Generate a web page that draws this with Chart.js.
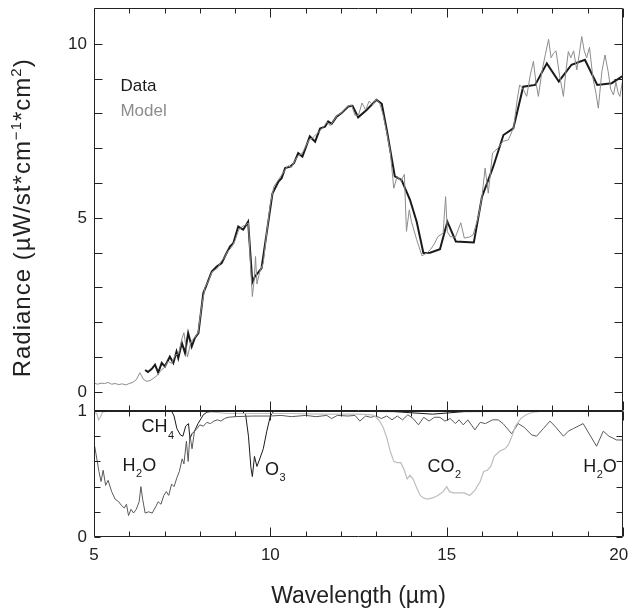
<!DOCTYPE html>
<html lang="en">
<head>
<meta charset="UTF-8">
<title>Radiance spectrum</title>
<script src="https://cdn.jsdelivr.net/npm/chart.js"></script>
<style>
  body { margin: 0; background: #fff; }
  #wrap { width: 629px; height: 610px; }
</style>
</head>
<body>
<div id="wrap"><canvas id="spec" width="629" height="610"></canvas></div>
<script>
// measured spectrum (black)
const dataWl = [6.45,6.53,6.64,6.73,6.82,6.92,7.01,7.15,7.25,7.34,7.39,7.49,7.58,7.67,7.77,7.86,7.96,8.10,8.19,8.34,
  8.48,8.62,8.76,8.86,8.95,9.09,9.23,9.37,9.49,9.56,9.75,10.06,10.23,10.32,10.42,10.56,10.67,10.79,10.91,11.12,
  11.27,11.41,11.55,11.64,11.74,11.88,12.02,12.21,12.33,12.49,12.73,13.01,13.16,13.30,13.53,13.72,13.96,14.15,14.34,14.53,
  14.81,15.02,15.26,15.77,16.00,16.32,16.61,16.89,17.17,17.51,17.84,18.18,18.54,18.92,19.27,19.68,20.00];
const dataRad = [0.63,0.57,0.66,0.78,0.55,0.83,0.73,1.01,0.83,1.16,0.97,1.41,1.12,1.69,1.30,1.55,1.69,2.84,3.07,3.46,
  3.60,3.70,3.99,4.18,4.27,4.75,4.66,4.89,3.15,3.31,3.55,5.70,6.04,6.14,6.43,6.47,6.57,6.86,6.76,7.34,
  7.19,7.57,7.62,7.77,7.70,7.91,8.01,8.20,8.22,7.89,8.10,8.39,8.28,7.53,6.19,6.09,5.52,4.89,3.99,4.00,
  4.10,4.89,4.32,4.29,5.60,6.47,7.38,7.57,8.77,8.82,9.44,8.92,9.40,9.54,8.82,8.87,9.08];

// model spectrum (grey)
const modelWl = [5.0,5.1,5.2,5.3,5.4,5.5,5.6,5.7,5.8,5.9,6.0,6.1,6.2,6.3,6.4,6.5,6.6,6.7,6.8,6.9,
  7.0,7.1,7.2,7.3,7.4,7.5,7.55,7.65,7.75,7.85,7.95,8.05,8.15,8.25,8.35,8.5,8.6,8.7,8.8,8.9,
  9.0,9.1,9.2,9.3,9.38,9.44,9.49,9.54,9.58,9.62,9.7,9.8,9.9,10.0,10.1,10.2,10.3,10.4,10.5,10.6,
  10.7,10.8,10.9,11.0,11.1,11.2,11.3,11.4,11.5,11.6,11.7,11.8,11.9,12.0,12.1,12.2,12.3,12.4,12.5,12.6,
  12.7,12.8,12.9,13.0,13.1,13.2,13.3,13.4,13.5,13.6,13.7,13.8,13.86,13.94,14.0,14.15,14.3,14.45,14.55,14.65,
  14.75,14.9,14.97,15.02,15.1,15.25,15.4,15.5,15.65,15.75,15.9,16.0,16.09,16.18,16.3,16.45,16.6,16.75,16.9,17.0,
  17.07,17.17,17.27,17.37,17.46,17.53,17.6,17.7,17.8,17.89,17.96,18.03,18.1,18.2,18.31,18.38,18.45,18.52,18.6,18.69,
  18.76,18.83,18.9,18.97,19.05,19.15,19.23,19.3,19.4,19.49,19.58,19.65,19.73,19.8,19.86,19.91,20.0];
const modelRad = [0.25,0.22,0.25,0.24,0.27,0.22,0.24,0.21,0.23,0.20,0.24,0.27,0.35,0.55,0.36,0.30,0.33,0.40,0.48,0.62,
  0.70,0.88,0.82,1.05,1.10,1.55,1.70,1.00,1.45,1.55,1.70,2.45,3.00,3.20,3.45,3.55,3.75,3.85,4.05,4.15,
  4.35,4.65,4.75,4.80,4.85,3.60,2.74,3.20,3.89,3.10,3.45,3.70,4.60,5.40,5.90,6.05,6.20,6.35,6.50,6.45,
  6.65,6.80,6.85,7.05,7.25,7.30,7.40,7.50,7.60,7.75,7.65,7.80,7.95,8.00,8.10,8.20,8.25,7.95,7.95,8.30,
  8.10,8.35,8.25,8.40,8.30,7.95,7.45,6.90,5.85,6.20,6.05,6.25,4.61,5.23,4.90,4.37,3.91,4.00,4.10,4.25,
  4.46,4.56,5.61,4.60,4.46,4.45,4.86,4.42,4.45,4.51,5.04,5.60,6.43,5.71,6.86,7.00,7.20,7.24,7.60,8.40,
  8.82,8.70,8.49,9.10,9.50,8.90,8.49,9.20,9.70,10.13,9.60,9.73,9.80,9.10,8.49,9.20,9.78,9.60,9.80,9.25,
  9.70,10.21,9.80,9.60,9.90,9.00,8.60,8.15,9.20,9.68,9.20,8.70,8.53,8.90,8.60,8.49,9.00];

// transmittance curves (lower panel)
const h2oWl = [5.02,5.08,5.14,5.2,5.26,5.33,5.4,5.5,5.6,5.7,5.78,5.86,5.92,5.98,6.05,6.12,6.2,6.28,6.33,6.38,
  6.45,6.55,6.65,6.75,6.82,6.9,6.98,7.05,7.12,7.2,7.27,7.35,7.42,7.5,7.55,7.62,7.67,7.72,7.78,7.85,
  7.92,8.0,8.1,8.2,8.3,8.4,8.5,8.6,8.7,8.8,9.0,9.5,10.0,10.3,10.6,11.0,11.3,11.6,11.74,11.9,
  12.2,12.4,12.54,12.7,12.85,13.0,13.15,13.3,13.45,13.6,13.75,13.9,14.05,14.2,14.35,14.5,14.65,14.81,14.95,15.1,
  15.25,15.35,15.47,15.6,15.8,15.95,16.1,16.3,16.46,16.6,16.84,17.03,17.2,17.41,17.55,17.74,17.93,18.1,18.31,18.45,
  18.59,18.87,19.06,19.25,19.44,19.6,19.82,20.0];
const h2oT = [0.72,0.62,0.52,0.44,0.53,0.41,0.45,0.36,0.30,0.28,0.25,0.23,0.26,0.17,0.22,0.19,0.22,0.28,0.40,0.30,
  0.19,0.20,0.19,0.24,0.28,0.26,0.33,0.36,0.33,0.42,0.40,0.47,0.52,0.62,0.58,0.76,0.60,0.81,0.70,0.84,
  0.86,0.89,0.88,0.91,0.90,0.92,0.93,0.92,0.94,0.95,0.955,0.96,0.96,0.965,0.955,0.965,0.955,0.965,0.94,0.965,
  0.96,0.965,0.92,0.96,0.95,0.96,0.94,0.96,0.93,0.96,0.93,0.97,0.94,0.89,0.95,0.92,0.95,0.95,0.92,0.94,
  0.90,0.93,0.89,0.93,0.85,0.91,0.90,0.93,0.93,0.90,0.82,0.90,0.87,0.81,0.80,0.86,0.92,0.87,0.80,0.84,
  0.86,0.90,0.81,0.72,0.84,0.80,0.77,0.77];
const co2Wl = [5.0,5.08,5.13,5.18,5.24,5.4,8.0,8.4,8.8,9.5,10.5,11.5,12.5,12.9,13.0,13.1,13.2,13.3,13.4,13.5,
  13.6,13.7,13.8,13.88,13.96,14.05,14.15,14.25,14.35,14.45,14.6,14.75,14.9,15.0,15.08,15.2,15.35,15.5,15.65,15.8,
  15.95,16.05,16.15,16.25,16.35,16.5,16.65,16.75,16.85,16.95,17.1,17.25,17.45,17.8,20.0];
const co2T = [0.99,0.98,0.93,0.95,0.99,1.0,1.0,0.99,0.98,0.98,0.98,0.975,0.975,0.97,0.95,0.92,0.87,0.79,0.68,0.60,
  0.59,0.59,0.53,0.46,0.49,0.46,0.39,0.33,0.31,0.30,0.31,0.33,0.36,0.40,0.36,0.35,0.35,0.35,0.33,0.37,
  0.44,0.52,0.53,0.56,0.64,0.68,0.70,0.73,0.80,0.88,0.94,0.97,0.99,1.0,1.0];
const ch4o3Wl = [5.0,7.2,7.27,7.35,7.45,7.52,7.6,7.68,7.72,7.78,7.85,7.95,8.1,8.2,8.4,9.2,9.3,9.38,9.45,9.49,
  9.55,9.62,9.7,9.8,9.9,10.0,10.1,13.5,14.6,15.5,20.0];
const ch4o3T = [1.0,1.0,0.96,0.86,0.81,0.80,0.88,0.90,0.78,0.82,0.84,0.90,0.97,0.99,1.0,1.0,0.97,0.80,0.55,0.48,
  0.64,0.56,0.62,0.70,0.84,0.96,1.0,0.995,0.975,0.995,1.0];

const xTicks = [5, 10, 15, 20];
const radTicks = [0, 5, 10];
const transTicks = [0, 1];

// text labels placed in data coordinates
const seriesNotes = [
  { text: 'Data', color: '#1a1a1a', wl: 5.75, rad: 8.79 },
  { text: 'Model', color: '#8c8c8c', wl: 5.75, rad: 8.05 }
];
const gasNotes = [
  { parts: [['CH', 0], ['4', 1]], wl: 6.35, t: 0.869 },
  { parts: [['H', 0], ['2', 1], ['O', 0]], wl: 5.81, t: 0.56 },
  { parts: [['O', 0], ['3', 1]], wl: 9.85, t: 0.53 },
  { parts: [['CO', 0], ['2', 1]], wl: 14.46, t: 0.556 },
  { parts: [['H', 0], ['2', 1], ['O', 0]], wl: 18.87, t: 0.556 }
];
// y title with real superscripts (0 = normal, 1 = raised)
const radTitle = [['Radiance (µW/st*cm', 0], ['\u22121', 1], ['*cm', 0], ['2', 1], [')', 0]];

const FONT = '"Liberation Sans", Arial, sans-serif';
const pts = (xs, ys) => xs.map((x, i) => ({ x: x, y: ys[i] }));
const fixTicks = list => scale => { scale.ticks = list.map(v => ({ value: v })); };

function range(a, b, step) {
  const out = [];
  for (let v = a; v <= b + 1e-9; v += step) out.push(+v.toFixed(3));
  return out;
}

// no auto padding from tick labels: keep the plot box where the figure has it
function fitWidth(w) {
  return s => { s.width = w; s.paddingTop = 0; s.paddingBottom = 0; };
}
function fitHeight(h) {
  return s => { s.height = h; s.paddingLeft = 0; s.paddingRight = 0; };
}

function drawTitle(ctx, parts, cx, cy) {
  const fontFor = up => (up ? '15px ' : '24px ') + FONT;
  ctx.save();
  ctx.letterSpacing = '1px';
  let total = 0;
  parts.forEach(([t, up]) => { ctx.font = fontFor(up); total += ctx.measureText(t).width; });
  ctx.translate(cx, cy);
  ctx.rotate(-Math.PI / 2);
  ctx.textAlign = 'left';
  ctx.textBaseline = 'alphabetic';
  ctx.fillStyle = '#222';
  let pos = -total / 2;
  parts.forEach(([t, up]) => {
    ctx.font = fontFor(up);
    ctx.fillText(t, pos, up ? -1 : 8);
    pos += ctx.measureText(t).width;
  });
  ctx.restore();
}

const framePlugin = {
  id: 'frame',
  afterDatasetsDraw(chart) {
    const { ctx, scales } = chart;
    const x = scales.x, yRad = scales.yRad, yTr = scales.yTr;
    const L = Math.round(x.left) + 0.5, R = Math.round(x.right) - 0.5;
    ctx.save();
    ctx.strokeStyle = '#222';
    ctx.lineWidth = 1;
    ctx.beginPath();
    [yRad, yTr].forEach(s => {
      const T = Math.round(s.top) + 0.5, B = Math.round(s.bottom) - 0.5;
      ctx.rect(L, T, R - L, B - T);
      range(5, 20, 1).forEach(v => {
        const px = Math.round(x.getPixelForValue(v)) + 0.5;
        const len = v % 5 === 0 ? 9 : 5;
        ctx.moveTo(px, T); ctx.lineTo(px, T + len);
        ctx.moveTo(px, B); ctx.lineTo(px, B - len);
      });
    });
    range(0, 10, 1).forEach(v => {
      const py = Math.round(yRad.getPixelForValue(v)) + 0.5;
      ctx.moveTo(L, py); ctx.lineTo(L + 8, py);
      ctx.moveTo(R, py); ctx.lineTo(R - 8, py);
    });
    range(0, 1, 0.2).forEach(v => {
      const py = Math.round(yTr.getPixelForValue(v)) + 0.5;
      ctx.moveTo(L, py); ctx.lineTo(L + 6, py);
      ctx.moveTo(R, py); ctx.lineTo(R - 6, py);
    });
    ctx.stroke();

    ctx.textBaseline = 'middle';
    ctx.textAlign = 'left';
    ctx.font = '17px ' + FONT;
    seriesNotes.forEach(n => {
      ctx.fillStyle = n.color;
      ctx.fillText(n.text, x.getPixelForValue(n.wl), yRad.getPixelForValue(n.rad));
    });

    ctx.fillStyle = '#1a1a1a';
    gasNotes.forEach(n => {
      let px = x.getPixelForValue(n.wl);
      const py = yTr.getPixelForValue(n.t);
      n.parts.forEach(([txt, sub]) => {
        ctx.font = (sub ? '11px ' : '18px ') + FONT;
        ctx.fillText(txt, px, sub ? py + 8 : py);
        px += ctx.measureText(txt).width + (sub ? 0 : 0.5);
      });
    });
    ctx.restore();

    // radiance title centred on the 0..10 range of its axis
    const mid = (yRad.getPixelForValue(radTicks[0]) + yRad.getPixelForValue(radTicks[radTicks.length - 1])) / 2;
    drawTitle(ctx, radTitle, yRad.left + 22, mid);
  }
};

const line = (label, data, axis, color, width) => ({
  label: label, data: data, yAxisID: axis, borderColor: color, borderWidth: width,
  pointRadius: 0, tension: 0, fill: false
});

new Chart(document.getElementById('spec'), {
  type: 'line',
  data: {
    datasets: [
      line('CO2', pts(co2Wl, co2T), 'yTr', '#bdbdbd', 1.2),
      line('H2O', pts(h2oWl, h2oT), 'yTr', '#5a5a5a', 1),
      line('CH4 / O3', pts(ch4o3Wl, ch4o3T), 'yTr', '#1a1a1a', 1),
      line('Model', pts(modelWl, modelRad), 'yRad', '#8c8c8c', 1),
      line('Data', pts(dataWl, dataRad), 'yRad', '#1a1a1a', 2)
    ]
  },
  options: {
    responsive: false,
    animation: false,
    layout: { autoPadding: false, padding: { top: 8, right: 6, left: 0, bottom: 0 } },
    plugins: { legend: { display: false }, tooltip: { enabled: false } },
    scales: {
      x: {
        type: 'linear', min: 5, max: 20,
        afterBuildTicks: fixTicks(xTicks),
        afterFit: fitHeight(73),
        ticks: {
          font: { family: FONT, size: 17 }, color: '#222', padding: 8, maxRotation: 0,
          // the last label sits against the page edge, nudge it inside
          callback: v => v === 20 ? '20\u2002' : String(v)
        },
        grid: { display: false, drawTicks: false },
        border: { display: false },
        title: { display: true, text: 'Wavelength (µm)', font: { family: FONT, size: 23 }, color: '#222', padding: { top: 16, bottom: 0 } }
      },
      yRad: {
        type: 'linear', position: 'left', stack: 'panels', stackWeight: 403, weight: 2,
        min: -0.55, max: 11.03,
        afterBuildTicks: fixTicks(radTicks),
        afterFit: fitWidth(94),
        ticks: { font: { family: FONT, size: 17 }, color: '#222', padding: 7 },
        grid: { display: false, drawTicks: false },
        border: { display: false }
      },
      yTr: {
        type: 'linear', position: 'left', stack: 'panels', stackWeight: 126, weight: 1,
        min: 0, max: 1,
        afterBuildTicks: fixTicks(transTicks),
        afterFit: fitWidth(94),
        ticks: { font: { family: FONT, size: 17 }, color: '#222', padding: 7 },
        grid: { display: false, drawTicks: false },
        border: { display: false }
      }
    }
  },
  plugins: [framePlugin]
});
</script>
</body>
</html>
